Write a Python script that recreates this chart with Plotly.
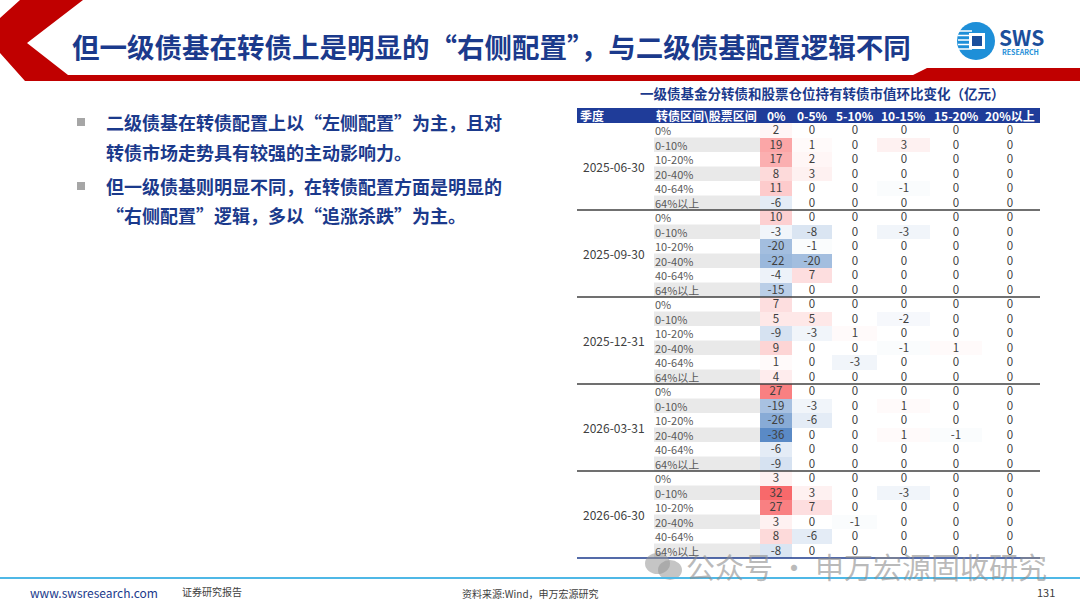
import plotly.graph_objects as go

# ---- 数据 ----
quarters = ["2025-06-30", "2025-09-30", "2025-12-31", "2026-03-31", "2026-06-30"]
cb_ranges = ["0%", "0-10%", "10-20%", "20-40%", "40-64%", "64%以上"]
stock_ranges = ["0%", "0-5%", "5-10%", "10-15%", "15-20%", "20%以上"]

# 每个季度：行=转债区间，列=股票区间（亿元）
chg_2025_06 = [
    [2, 0, 0, 0, 0, 0],
    [19, 1, 0, 3, 0, 0],
    [17, 2, 0, 0, 0, 0],
    [8, 3, 0, 0, 0, 0],
    [11, 0, 0, -1, 0, 0],
    [-6, 0, 0, 0, 0, 0],
]
chg_2025_09 = [
    [10, 0, 0, 0, 0, 0],
    [-3, -8, 0, -3, 0, 0],
    [-20, -1, 0, 0, 0, 0],
    [-22, -20, 0, 0, 0, 0],
    [-4, 7, 0, 0, 0, 0],
    [-15, 0, 0, 0, 0, 0],
]
chg_2025_12 = [
    [7, 0, 0, 0, 0, 0],
    [5, 5, 0, -2, 0, 0],
    [-9, -3, 1, 0, 0, 0],
    [9, 0, 0, -1, 1, 0],
    [1, 0, -3, 0, 0, 0],
    [4, 0, 0, 0, 0, 0],
]
chg_2026_03 = [
    [27, 0, 0, 0, 0, 0],
    [-19, -3, 0, 1, 0, 0],
    [-26, -6, 0, 0, 0, 0],
    [-36, 0, 0, 1, -1, 0],
    [-6, 0, 0, 0, 0, 0],
    [-9, 0, 0, 0, 0, 0],
]
chg_2026_06 = [
    [3, 0, 0, 0, 0, 0],
    [32, 3, 0, -3, 0, 0],
    [27, 7, 0, 0, 0, 0],
    [3, 0, -1, 0, 0, 0],
    [8, -6, 0, 0, 0, 0],
    [-8, 0, 0, 0, 0, 0],
]
all_chg = [chg_2025_06, chg_2025_09, chg_2025_12, chg_2026_03, chg_2026_06]

# ---- 版式（像素坐标） ----
W, H = 1080, 608
FONT = "Noto Sans CJK SC"
BLUE = "#1B3A8C"
RED = "#C00000"
TABLE_L, TABLE_R = 577, 1040
LABEL_X = 654
COL_EDGES = [760, 792, 832, 877, 930, 982, 1038]
ROW_TOP = 123
ROW_H = 14.5

z = [row for q in all_chg for row in q]
z_text = [[str(v) for v in row] for row in z]  # 用普通连字符作负号
n_rows = len(z)
row_edges = [ROW_TOP + i * ROW_H for i in range(n_rows + 1)]

zmin = min(min(r) for r in z)
zmax = max(max(r) for r in z)
mid = -zmin / (zmax - zmin)

fig = go.Figure()

fig.add_trace(go.Heatmap(
    z=z,
    x=COL_EDGES,
    y=row_edges,
    text=z_text,
    zmin=zmin,
    zmax=zmax,
    colorscale=[[0, "#5A8AC6"], [mid, "#FFFFFF"], [1, "#F8696B"]],
    showscale=False,
    texttemplate="%{text}",
    textfont=dict(family=FONT, size=11.5, color="#404040"),
    hoverinfo="skip",
))

shapes = []
annotations = []

def px_shape(**kw):
    kw.setdefault("xref", "x")
    kw.setdefault("yref", "y")
    shapes.append(kw)

def text(x, y, s, size=11, color="#404040", xanchor="left", bold=False, **kw):
    annotations.append(dict(
        x=x, y=y, xref="x", yref="y", text=f"<b>{s}</b>" if bold else s,
        showarrow=False, xanchor=xanchor, yanchor="middle",
        font=dict(family=FONT, size=size, color=color), **kw))

# ---- 顶部红色装饰 ----
path = "M20,0 L83,0 L27,43 L68,75 L913,75 L927,68 L1080,68 L1080,81 L25,81 L0,53 L0,18 Z"
px_shape(type="path", path=path, fillcolor=RED, line=dict(width=0), layer="above")

text(70, 46, "但一级债基在转债上是明显的“右侧配置”，与二级债基配置逻辑不同",
     size=27.5, color=BLUE, bold=True)

# SWS 标志
px_shape(type="circle", x0=957, y0=22, x1=995, y1=60, fillcolor="#1E8FD8", line=dict(width=0))
for k in range(5):
    yy = 31 + k * 4.5
    px_shape(type="line", x0=958, x1=972, y0=yy, y1=yy, line=dict(color="white", width=1.5))
px_shape(type="rect", x0=969, y0=33, x1=985, y1=49, fillcolor="white", line=dict(width=0))
px_shape(type="rect", x0=972, y0=36, x1=982, y1=46, fillcolor="#1B4F9C", line=dict(width=0))
text(997, 37, "SWS", size=21, color="#1B4F9C", bold=True)
text(1000, 52, "RESEARCH", size=7, color="#1E8FD8", bold=True)

# ---- 左侧要点 ----
bullets = [
    (122, "二级债基在转债配置上以“左侧配置”为主，且对", True),
    (152, "转债市场走势具有较强的主动影响力。", False),
    (186, "但一级债基则明显不同，在转债配置方面是明显的", True),
    (215, "“右侧配置”逻辑，多以“追涨杀跌”为主。", False),
]
for yy, s, has_sq in bullets:
    if has_sq:
        px_shape(type="rect", x0=77, x1=85, y0=yy - 4, y1=yy + 4,
                 fillcolor="#A6A6A6", line=dict(width=0))
    text(104, yy, s, size=18, color=BLUE, bold=True)

# ---- 表格 ----
text(822, 93, "一级债基金分转债和股票仓位持有转债市值环比变化（亿元）",
     size=13.5, color=BLUE, bold=True, xanchor="center")
px_shape(type="rect", x0=TABLE_L, x1=TABLE_R, y0=108, y1=ROW_TOP,
         fillcolor="#1F3C99", line=dict(width=0), layer="below")
text(578, 115.5, "季度", size=12, color="white", bold=True)
text(LABEL_X, 115.5, "转债区间\\股票区间", size=12, color="white", bold=True)
for j, name in enumerate(stock_ranges):
    text((COL_EDGES[j] + COL_EDGES[j + 1]) / 2, 115.5, name, size=12,
         color="white", bold=True, xanchor="center")

per_q = len(cb_ranges)
for gi, q in enumerate(quarters):
    g_top = ROW_TOP + gi * per_q * ROW_H
    text(614, g_top + per_q * ROW_H / 2, q, size=12, color="#404040", xanchor="center")
    for ri, lab in enumerate(cb_ranges):
        y0 = g_top + ri * ROW_H
        if ri % 2 == 1:
            px_shape(type="rect", x0=LABEL_X, x1=COL_EDGES[0], y0=y0, y1=y0 + ROW_H,
                     fillcolor="#E9E9E9", line=dict(width=0), layer="below")
        text(LABEL_X, y0 + ROW_H / 2, lab, size=11, color="#595959", borderpad=0)
    if gi > 0:
        px_shape(type="line", x0=TABLE_L, x1=TABLE_R, y0=g_top, y1=g_top,
                 line=dict(color="#404040", width=1.3), layer="above")

bottom = ROW_TOP + n_rows * ROW_H
px_shape(type="line", x0=TABLE_L, x1=TABLE_R, y0=bottom, y1=bottom,
         line=dict(color="#1B3A8C", width=1.3), layer="above")

# ---- 水印 ----
px_shape(type="circle", x0=645, y0=553, x1=670, y1=574, fillcolor="rgba(150,150,150,0.55)",
         line=dict(width=0), layer="above")
px_shape(type="circle", x0=658, y0=560, x1=682, y1=580, fillcolor="rgba(150,150,150,0.55)",
         line=dict(width=0), layer="above")
text(684, 566, "公众号 · 申万宏源固收研究", size=29, color="rgba(140,140,140,0.6)")

# ---- 页脚 ----
px_shape(type="line", x0=0, x1=W, y0=578, y1=578, line=dict(color="#4FB8E6", width=2))
text(28, 592, "www.swsresearch.com", size=12, color="#1B3A8C")
text(180, 591, "证券研究报告", size=10, color="#404040")
text(530, 593, "资料来源:Wind，申万宏源研究", size=10, color="#404040", xanchor="center")
text(1057, 592, "131", size=11, color="#404040", xanchor="right")

fig.update_layout(
    width=W,
    height=H,
    margin=dict(l=0, r=0, t=0, b=0),
    paper_bgcolor="white",
    plot_bgcolor="white",
    xaxis=dict(range=[0, W], visible=False, fixedrange=True),
    yaxis=dict(range=[H, 0], visible=False, fixedrange=True),
    shapes=shapes,
    annotations=annotations,
    showlegend=False,
)

# 去掉页面默认边距，让图贴齐窗口
fig.write_html("out.html", config={"displayModeBar": False},
               post_script="document.body.style.margin='0';")
